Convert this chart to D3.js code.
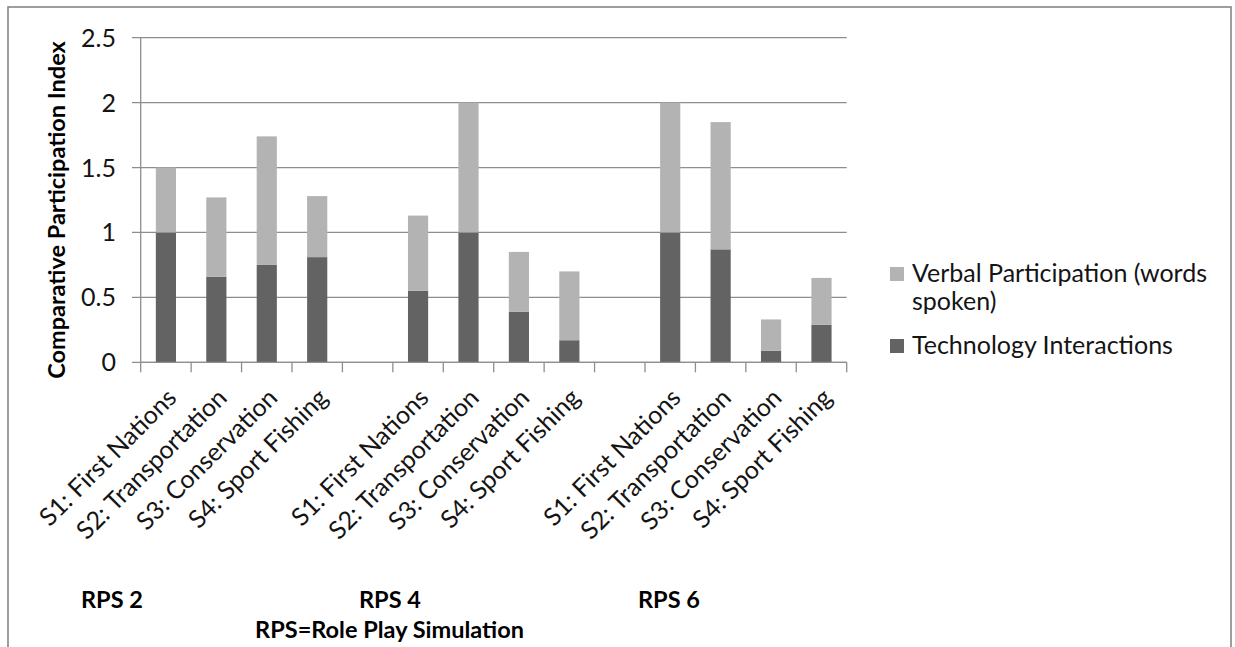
<!DOCTYPE html>
<html>
<head>
<meta charset="utf-8">
<script src="https://cdn.jsdelivr.net/npm/d3@7"></script>
<style>
  html, body { margin: 0; padding: 0; background: #ffffff; }
  svg { display: block; font-family: Lato, "Open Sans", sans-serif; }
</style>
</head>
<body>
<svg id="chart" width="1235" height="647"></svg>
<script>
// ---- data ----
const groups = ["RPS 2", "RPS 4", "RPS 6"];
const scenarios = ["S1: First Nations", "S2: Transportation", "S3: Conservation", "S4: Sport Fishing"];
const techValues   = [1.00, 0.66, 0.75, 0.81,  0.55, 1.00, 0.39, 0.17,  1.00, 0.87, 0.09, 0.29];
const verbalValues = [0.50, 0.61, 0.99, 0.47,  0.58, 1.00, 0.46, 0.53,  1.00, 0.98, 0.24, 0.36];
const seriesNames = ["Verbal Participation (words spoken)", "Technology Interactions"];
const legendLines = [["Verbal Participation (words", "spoken)"], ["Technology Interactions"]];
const yTicks = [0, 0.5, 1, 1.5, 2, 2.5];
const yTitle = "Comparative Participation Index";
const footnote = "RPS=Role Play Simulation";

// slots: 4 scenarios per group, a blank slot between groups
const slots = [];
groups.forEach((g, gi) => {
  scenarios.forEach((s, si) => {
    const i = gi * scenarios.length + si;
    slots.push({ key: g + "|" + s, label: s, tech: techValues[i], verbal: verbalValues[i] });
  });
  if (gi < groups.length - 1) slots.push({ key: "gap" + gi, label: "", tech: null, verbal: null });
});

const svg = d3.select("#chart");
const W = 1235, H = 647;
svg.append("rect").attr("width", W).attr("height", H).attr("fill", "#fff");

// outer frame
svg.append("rect").attr("x", 8).attr("y", 7).attr("width", 1223).attr("height", 680)
  .attr("fill", "none").attr("stroke", "#868686").attr("stroke-width", 1.6);

const plot = { left: 140.7, right: 846.7, top: 37.7, bottom: 362.3 };

const x = d3.scaleBand().domain(slots.map(d => d.key))
  .range([plot.left, plot.right]).paddingInner(0.6).paddingOuter(0.3);
const y = d3.scaleLinear().domain([0, 2.5]).range([plot.bottom, plot.top]);

const gridColor = "#8e8e8e";
const darkColor = "#636363";
const lightColor = "#b3b3b3";
const textColor = "#141414";

// gridlines + y ticks
const yAxis = d3.axisLeft(y).tickValues(yTicks).tickFormat(d3.format("")).tickSize(0);
const gy = svg.append("g").attr("transform", `translate(${plot.left},0)`);
gy.selectAll("line.grid").data(yTicks).join("line")
  .attr("class", "grid")
  .attr("x1", -8.7).attr("x2", plot.right - plot.left)
  .attr("y1", d => y(d)).attr("y2", d => y(d))
  .attr("stroke", gridColor).attr("stroke-width", 1.3);
gy.call(yAxis);
gy.select(".domain").remove();
gy.selectAll(".tick text")
  .attr("x", -24.7).attr("dy", "0.34em")
  .attr("font-family", "Lato, sans-serif").attr("font-size", 25).attr("fill", textColor);

// y axis line
svg.append("line").attr("x1", plot.left).attr("x2", plot.left)
  .attr("y1", plot.top).attr("y2", plot.bottom)
  .attr("stroke", gridColor).attr("stroke-width", 1.3);

// bars
const bars = svg.append("g");
const filled = slots.filter(d => d.tech !== null);
bars.selectAll("rect.tech").data(filled).join("rect")
  .attr("class", "tech")
  .attr("x", d => x(d.key)).attr("width", x.bandwidth())
  .attr("y", d => y(d.tech)).attr("height", d => y(0) - y(d.tech))
  .attr("fill", darkColor);
bars.selectAll("rect.verbal").data(filled).join("rect")
  .attr("class", "verbal")
  .attr("x", d => x(d.key)).attr("width", x.bandwidth())
  .attr("y", d => y(d.tech + d.verbal)).attr("height", d => y(d.tech) - y(d.tech + d.verbal))
  .attr("fill", lightColor);

// x axis line and tick marks between categories
svg.append("line").attr("x1", plot.left).attr("x2", plot.right)
  .attr("y1", plot.bottom).attr("y2", plot.bottom)
  .attr("stroke", gridColor).attr("stroke-width", 1.3);
const boundaries = slots.map(d => x(d.key) - x.step() * x.paddingInner() / 2).concat([plot.right]);
svg.selectAll("line.xtick").data(boundaries).join("line")
  .attr("class", "xtick")
  .attr("x1", d => d).attr("x2", d => d)
  .attr("y1", plot.bottom).attr("y2", plot.bottom + 10)
  .attr("stroke", gridColor).attr("stroke-width", 1.3);

// category labels rotated -45
const xAxis = d3.axisBottom(x).tickSize(0).tickFormat(k => slots.find(s => s.key === k).label);
const gx = svg.append("g").attr("transform", `translate(0,${plot.bottom})`).call(xAxis);
gx.select(".domain").remove();
gx.selectAll(".tick text")
  .attr("text-anchor", "end")
  .attr("x", 0).attr("y", 0).attr("dy", 0)
  .attr("transform", "translate(12,37) rotate(-45)")
  .attr("font-family", "Lato, sans-serif").attr("font-size", 25).attr("fill", textColor);

// y title
svg.append("text")
  .attr("transform", "translate(65,210) rotate(-90)")
  .attr("text-anchor", "middle")
  .attr("font-family", "Lato, sans-serif").attr("font-weight", "bold")
  .attr("font-size", 23.5).attr("fill", "#000")
  .text(yTitle);

// group labels
const groupX = [81, 359, 638];
svg.selectAll("text.group").data(groups).join("text")
  .attr("class", "group")
  .attr("x", (d, i) => groupX[i]).attr("y", 608)
  .attr("font-family", "Lato, sans-serif").attr("font-weight", "bold")
  .attr("font-size", 23.5).attr("fill", "#000")
  .text(d => d);
svg.append("text")
  .attr("x", 389.5).attr("y", 638).attr("text-anchor", "middle")
  .attr("font-family", "Lato, sans-serif").attr("font-weight", "bold")
  .attr("font-size", 23.5).attr("fill", "#000")
  .text(footnote);

// legend
const legendColors = [lightColor, darkColor];
const legendTop = [282, 354];
const lg = svg.append("g");
seriesNames.forEach((name, i) => {
  lg.append("rect").attr("x", 890).attr("y", legendTop[i] - 15).attr("width", 14).attr("height", 14)
    .attr("fill", legendColors[i]);
  const t = lg.append("text").attr("x", 912).attr("y", legendTop[i])
    .attr("font-family", "Lato, sans-serif").attr("font-size", 25).attr("fill", textColor);
  legendLines[i].forEach((line, j) => {
    t.append("tspan").attr("x", 912).attr("dy", j === 0 ? 0 : 28).text(line);
  });
});
</script>
</body>
</html>
